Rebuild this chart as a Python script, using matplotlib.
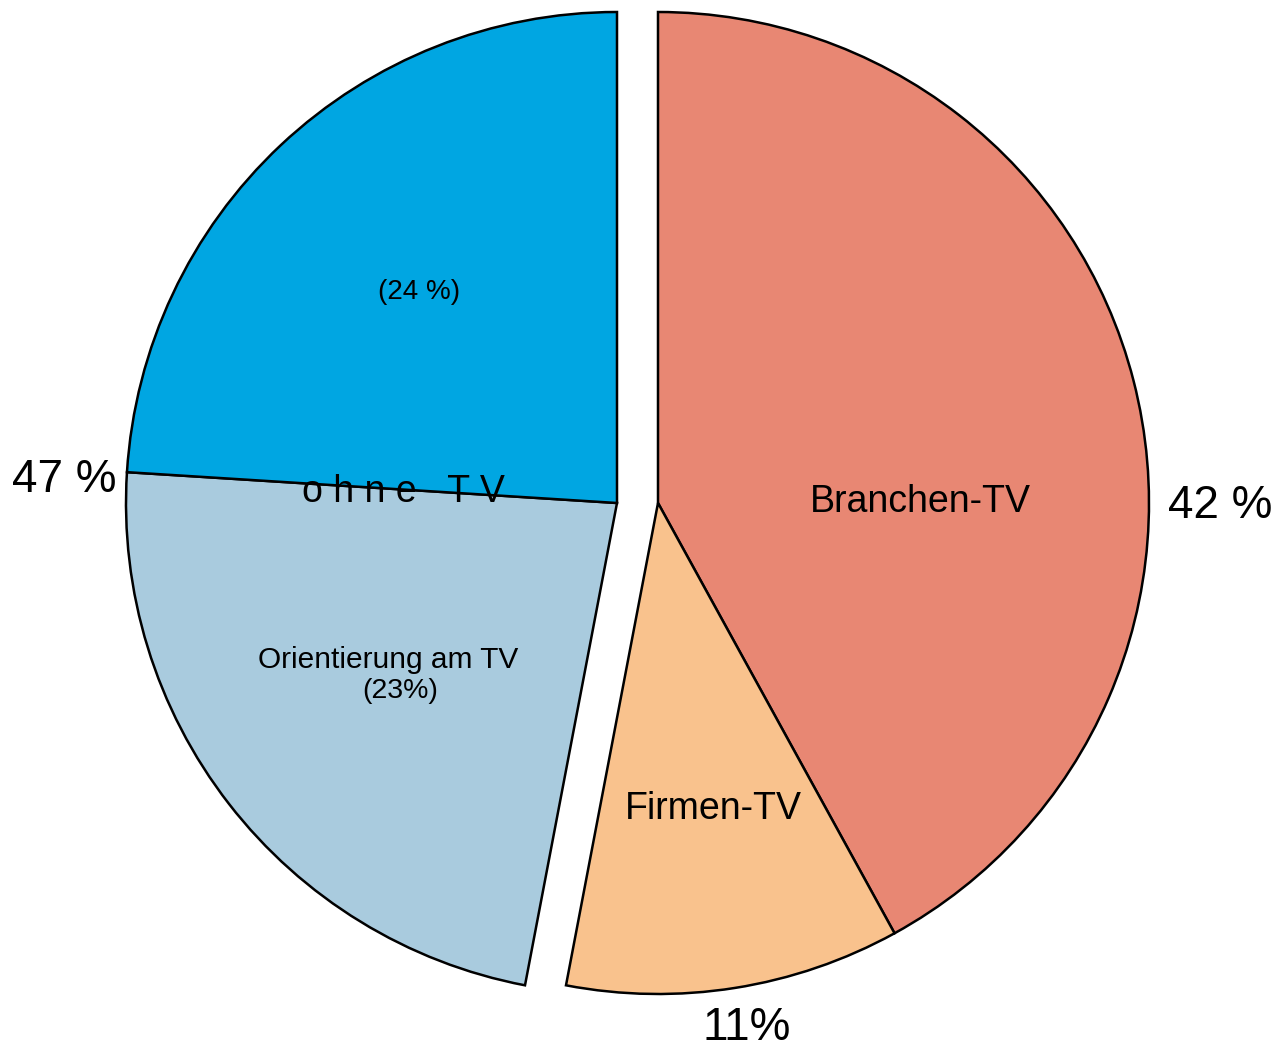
import matplotlib
matplotlib.use("Agg")
import matplotlib.pyplot as plt

plt.rcParams['font.family'] = ['Liberation Sans', 'DejaVu Sans']

# Data
categories = ["Branchen-TV", "Firmen-TV", "Orientierung am TV", "ohne TV"]
values = [42, 11, 23, 24]
colors = ["#E88773", "#F9C28D", "#A9CBDE", "#00A6E2"]
outer_labels = ["42 %", "11%", "47 %"]

W, H = 1288, 1051
fig = plt.figure(figsize=(W / 100, H / 100), dpi=100)
ax = fig.add_axes([0, 0, 1, 1])

R = 491
cx_right, cx_left, cy = 658, 617, H - 503

wedges, _ = ax.pie(values, colors=colors, startangle=90, counterclock=False,
                   radius=R, center=(cx_right, cy),
                   wedgeprops=dict(edgecolor="black", linewidth=1.8))
# the "ohne TV" group (Orientierung + ohne TV) is shifted left
for w in wedges[2:]:
    w.set_center((cx_left, cy))

ax.set_xlim(0, W)
ax.set_ylim(0, H)
ax.set_aspect("equal")
ax.axis("off")

def txt(x, py, s, size, **kw):
    ax.text(x, H - py, s, fontsize=size, ha="center", va="baseline", color="black", **kw)

# inner labels
txt(920, 512, categories[0], 27)
txt(713, 819, categories[1], 27)
txt(388, 668, categories[2], 21.5)
txt(400, 698, "(23%)", 20.5)
txt(419, 299, "(24 %)", 20)
txt(403, 502, "o h n e   T V", 27)

# outer labels
txt(1220, 518, outer_labels[0], 33)
txt(747, 1040, outer_labels[1], 33)
txt(64, 492, outer_labels[2], 33)

fig.savefig("out.png", dpi=100)
